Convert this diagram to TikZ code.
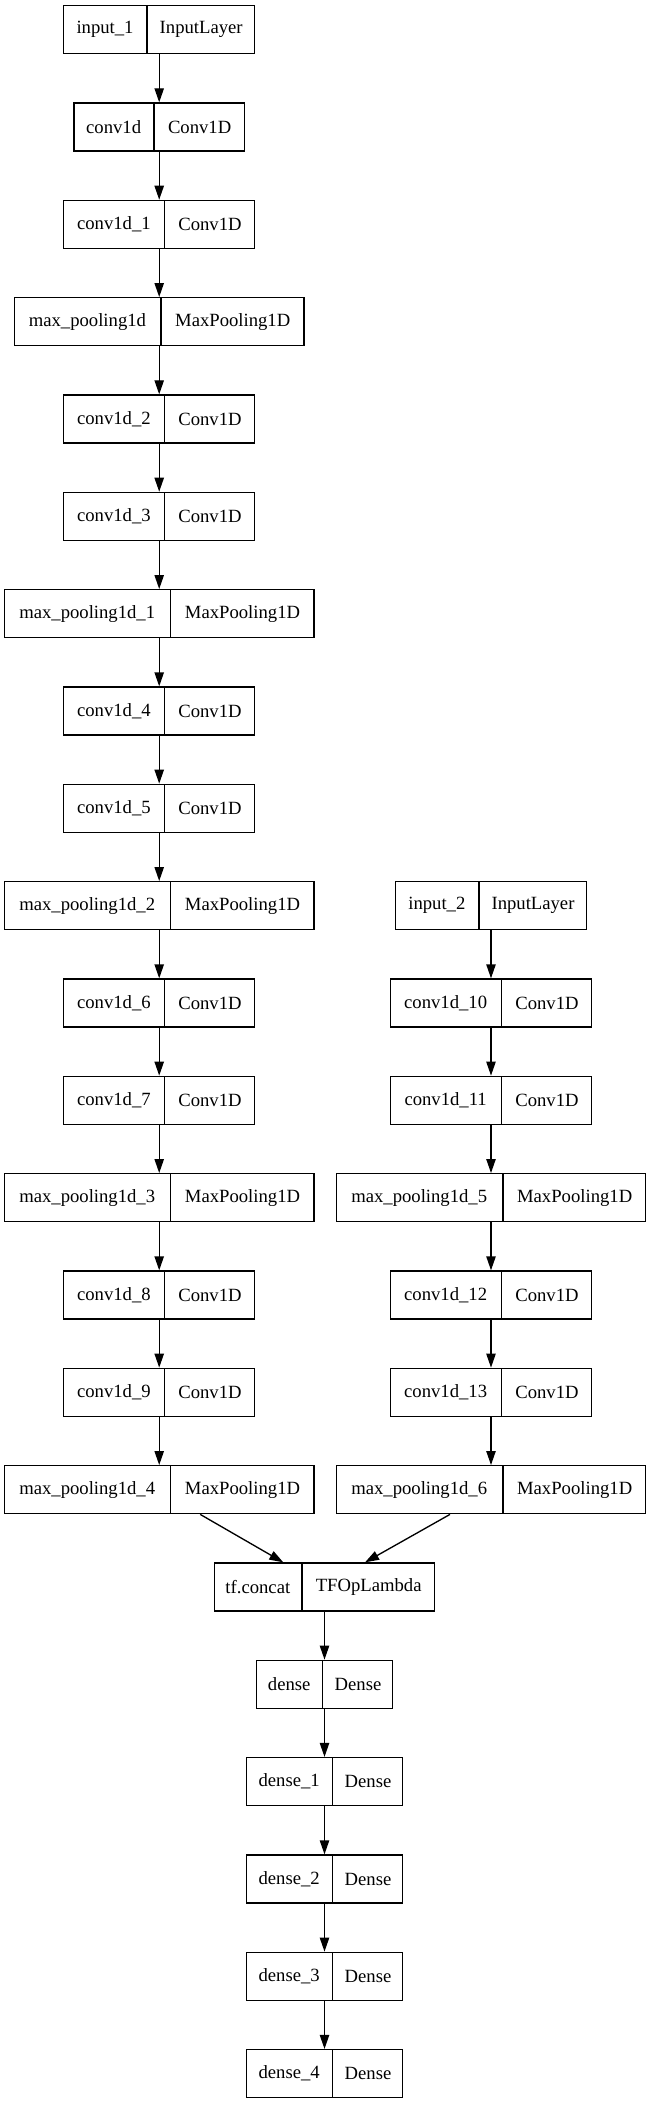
\documentclass[tikz,border=0pt]{standalone}
\usepackage{fontspec}
\setmainfont{Liberation Serif}
\usetikzlibrary{shapes.multipart,arrows.meta}
\tikzset{
  layer/.style={draw, line width=1pt, rectangle split, rectangle split horizontal,
    rectangle split parts=2, minimum height=36pt, inner xsep=0pt, inner ysep=0pt,
    font=\fontsize{14}{17}\selectfont},
  flow/.style={-{Triangle[length=10.5pt,width=7pt]}, line width=1pt},
}
\newcommand\fld[2]{\makebox[#1]{#2}}
\begin{document}
\begin{tikzpicture}[x=0.75pt,y=-0.75pt]
  \useasboundingbox (0,0) rectangle (651,2104);
  % left branch
  \node[layer] (in1) at (159.2,29.7) {\fld{62pt}{input\_1}\nodepart{two}\fld{80.25pt}{InputLayer}};
  \node[layer] (c0) at (159.2,127.0) {\fld{59.7pt}{conv1d}\nodepart{two}\fld{67.3pt}{Conv1D}};
  \node[layer] (c1) at (159.2,224.4) {\fld{75.2pt}{conv1d\_1}\nodepart{two}\fld{67pt}{Conv1D}};
  \node[layer] (mp0) at (159.2,321.7) {\fld{109.3pt}{max\_pooling1d}\nodepart{two}\fld{106.7pt}{MaxPooling1D}};
  \node[layer] (c2) at (159.2,419.0) {\fld{75.2pt}{conv1d\_2}\nodepart{two}\fld{67pt}{Conv1D}};
  \node[layer] (c3) at (159.2,516.4) {\fld{75.2pt}{conv1d\_3}\nodepart{two}\fld{67pt}{Conv1D}};
  \node[layer] (mp1) at (159.2,613.7) {\fld{124pt}{max\_pooling1d\_1}\nodepart{two}\fld{107pt}{MaxPooling1D}};
  \node[layer] (c4) at (159.2,711.0) {\fld{75.2pt}{conv1d\_4}\nodepart{two}\fld{67pt}{Conv1D}};
  \node[layer] (c5) at (159.2,808.3) {\fld{75.2pt}{conv1d\_5}\nodepart{two}\fld{67pt}{Conv1D}};
  \node[layer] (mp2) at (159.2,905.7) {\fld{124pt}{max\_pooling1d\_2}\nodepart{two}\fld{107pt}{MaxPooling1D}};
  \node[layer] (c6) at (159.2,1003.0) {\fld{75.2pt}{conv1d\_6}\nodepart{two}\fld{67pt}{Conv1D}};
  \node[layer] (c7) at (159.2,1100.3) {\fld{75.2pt}{conv1d\_7}\nodepart{two}\fld{67pt}{Conv1D}};
  \node[layer] (mp3) at (159.2,1197.7) {\fld{124pt}{max\_pooling1d\_3}\nodepart{two}\fld{107pt}{MaxPooling1D}};
  \node[layer] (c8) at (159.2,1295.0) {\fld{75.2pt}{conv1d\_8}\nodepart{two}\fld{67pt}{Conv1D}};
  \node[layer] (c9) at (159.2,1392.3) {\fld{75.2pt}{conv1d\_9}\nodepart{two}\fld{67pt}{Conv1D}};
  \node[layer] (mp4) at (159.2,1489.7) {\fld{124pt}{max\_pooling1d\_4}\nodepart{two}\fld{107pt}{MaxPooling1D}};
  % right branch
  \node[layer] (in2) at (491,905.7) {\fld{62pt}{input\_2}\nodepart{two}\fld{80.25pt}{InputLayer}};
  \node[layer] (c10) at (491,1003.0) {\fld{83pt}{conv1d\_10}\nodepart{two}\fld{67pt}{Conv1D}};
  \node[layer] (c11) at (491,1100.3) {\fld{83pt}{conv1d\_11}\nodepart{two}\fld{67pt}{Conv1D}};
  \node[layer] (mp5) at (491,1197.7) {\fld{124.5pt}{max\_pooling1d\_5}\nodepart{two}\fld{106.7pt}{MaxPooling1D}};
  \node[layer] (c12) at (491,1295.0) {\fld{83pt}{conv1d\_12}\nodepart{two}\fld{67pt}{Conv1D}};
  \node[layer] (c13) at (491,1392.3) {\fld{83pt}{conv1d\_13}\nodepart{two}\fld{67pt}{Conv1D}};
  \node[layer] (mp6) at (491,1489.7) {\fld{124.5pt}{max\_pooling1d\_6}\nodepart{two}\fld{106.7pt}{MaxPooling1D}};
  % head
  \node[layer] (cat) at (324.5,1587.0) {\fld{65.25pt}{tf.concat}\nodepart{two}\fld{99pt}{TFOpLambda}};
  \node[layer] (d0) at (324.5,1684.3) {\fld{49.3pt}{dense}\nodepart{two}\fld{52pt}{Dense}};
  \node[layer] (d1) at (324.5,1781.6) {\fld{64.3pt}{dense\_1}\nodepart{two}\fld{52pt}{Dense}};
  \node[layer] (d2) at (324.5,1879.0) {\fld{64.3pt}{dense\_2}\nodepart{two}\fld{52pt}{Dense}};
  \node[layer] (d3) at (324.5,1976.3) {\fld{64.3pt}{dense\_3}\nodepart{two}\fld{52pt}{Dense}};
  \node[layer] (d4) at (324.5,2073.6) {\fld{64.3pt}{dense\_4}\nodepart{two}\fld{52pt}{Dense}};
  % edges
  \draw[flow] (in1.south) -- (c0.north);
  \draw[flow] (c0.south) -- (c1.north);
  \draw[flow] (c1.south) -- (mp0.north);
  \draw[flow] (mp0.south) -- (c2.north);
  \draw[flow] (c2.south) -- (c3.north);
  \draw[flow] (c3.south) -- (mp1.north);
  \draw[flow] (mp1.south) -- (c4.north);
  \draw[flow] (c4.south) -- (c5.north);
  \draw[flow] (c5.south) -- (mp2.north);
  \draw[flow] (mp2.south) -- (c6.north);
  \draw[flow] (c6.south) -- (c7.north);
  \draw[flow] (c7.south) -- (mp3.north);
  \draw[flow] (mp3.south) -- (c8.north);
  \draw[flow] (c8.south) -- (c9.north);
  \draw[flow] (c9.south) -- (mp4.north);
  \draw[flow] (in2.south) -- (c10.north);
  \draw[flow] (c10.south) -- (c11.north);
  \draw[flow] (c11.south) -- (mp5.north);
  \draw[flow] (mp5.south) -- (c12.north);
  \draw[flow] (c12.south) -- (c13.north);
  \draw[flow] (c13.south) -- (mp6.north);
  \draw[flow] ([xshift=30.75pt]mp4.south) -- ([xshift=-30.9pt]cat.north);
  \draw[flow] ([xshift=-30.75pt]mp6.south) -- ([xshift=30.4pt]cat.north);
  \draw[flow] (cat.south) -- (d0.north);
  \draw[flow] (d0.south) -- (d1.north);
  \draw[flow] (d1.south) -- (d2.north);
  \draw[flow] (d2.south) -- (d3.north);
  \draw[flow] (d3.south) -- (d4.north);
\end{tikzpicture}
\end{document}
